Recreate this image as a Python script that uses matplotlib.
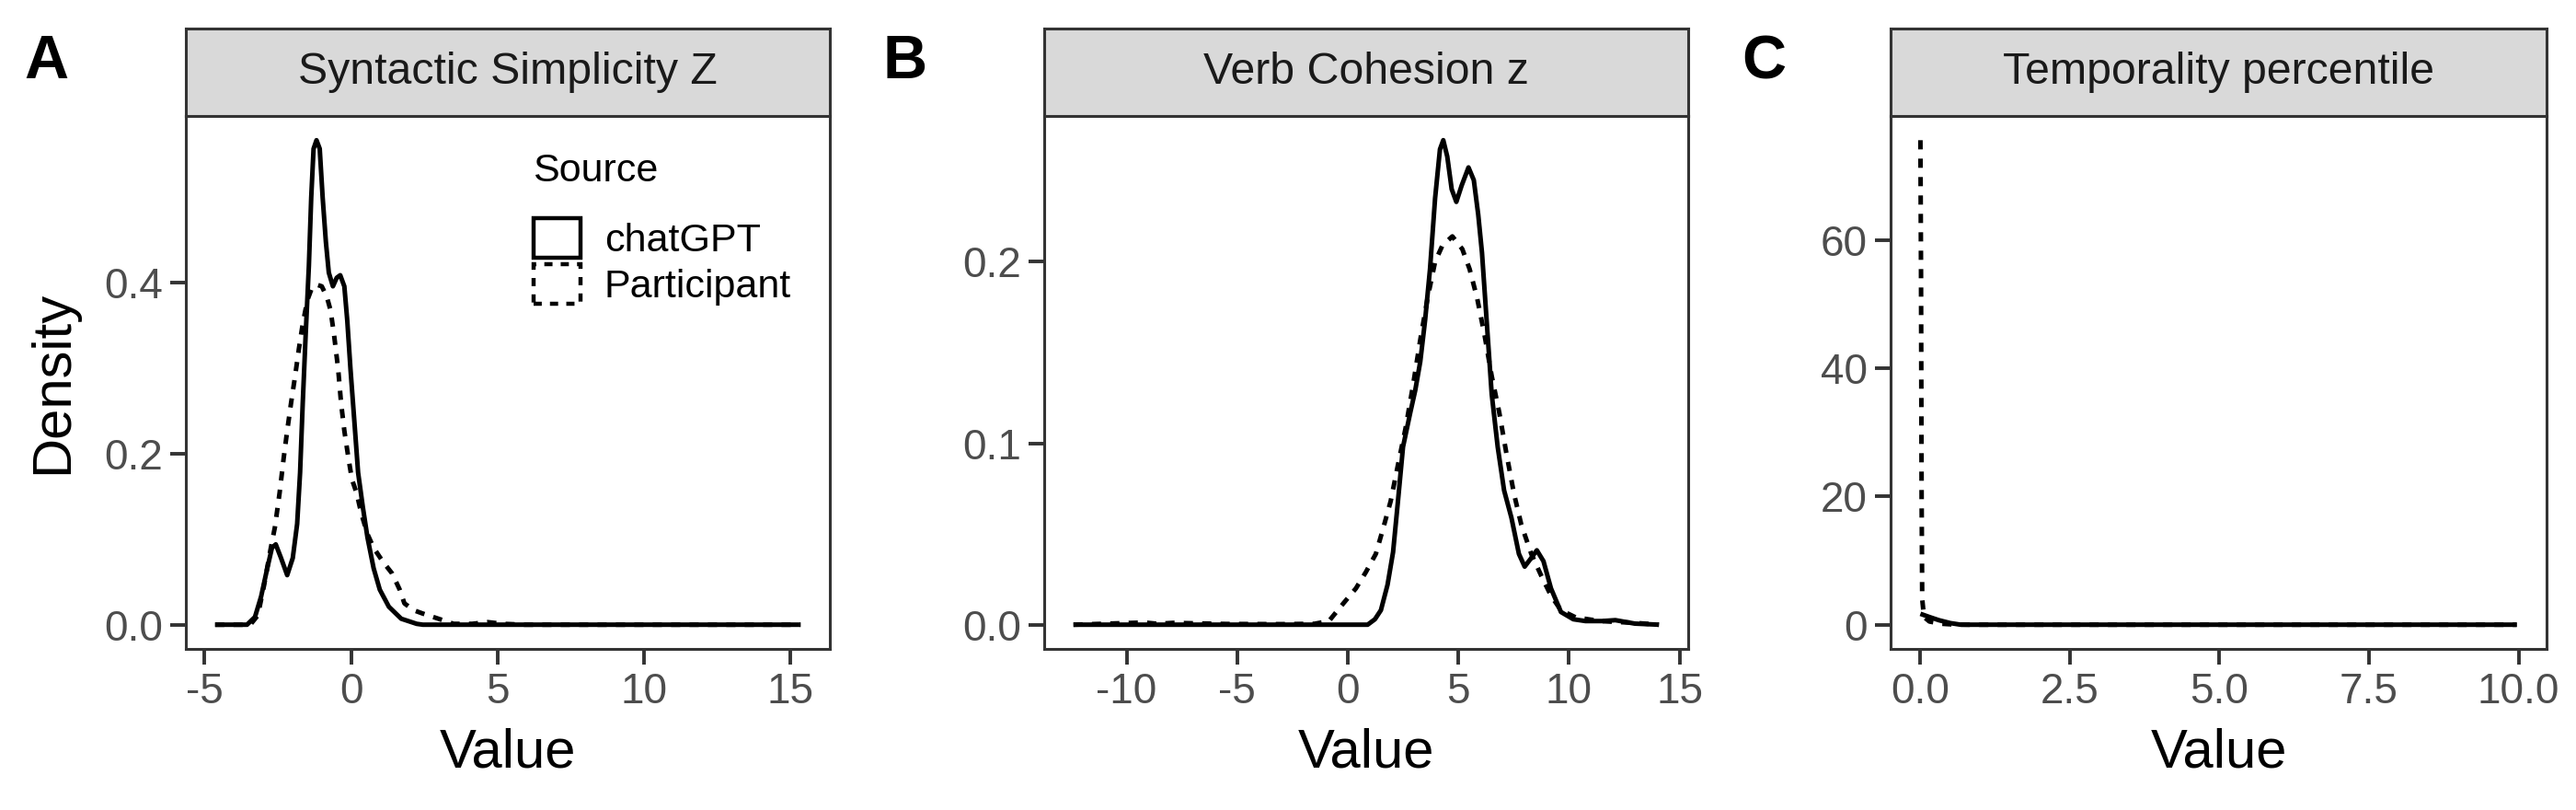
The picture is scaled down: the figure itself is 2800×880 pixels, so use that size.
#!/usr/bin/env python3
"""Density of three linguistic measures, chatGPT vs participant texts."""
import matplotlib
matplotlib.use("Agg")
import matplotlib.pyplot as plt
import matplotlib.patches as mpatches

plt.rcParams["font.family"] = ["Liberation Sans", "DejaVu Sans"]
plt.rcParams["axes.unicode_minus"] = False

# curves (x value, density)
SYN_GPT_X = [-4.64, -3.55, -3.28, -3.07, -2.86, -2.70, -2.57, -2.39, -2.18, -1.99, -1.84,
             -1.74, -1.65, -1.55, -1.44, -1.36, -1.28, -1.18, -1.07, -0.97, -0.86, -0.76,
             -0.62, -0.49, -0.37, -0.23, -0.13, -0.02, 0.11, 0.24, 0.40, 0.56, 0.77, 0.98,
             1.29, 1.71, 2.24, 2.45, 15.34]
SYN_GPT_Y = [0, 0, 0.009, 0.033, 0.066, 0.090, 0.094, 0.078, 0.058, 0.078, 0.118,
             0.178, 0.259, 0.339, 0.420, 0.500, 0.557, 0.567, 0.557, 0.500, 0.448, 0.412,
             0.396, 0.406, 0.409, 0.396, 0.356, 0.299, 0.239, 0.178, 0.138, 0.102, 0.066, 0.041,
             0.021, 0.007, 0.001, 0, 0]
SYN_PART_X = [-4.64, -3.44, -3.18, -2.97, -2.76, -2.60, -2.44, -2.30, -2.18, -2.05, -1.91,
              -1.78, -1.65, -1.49, -1.36, -1.18, -1.00, -0.83, -0.70, -0.58, -0.44, -0.34,
              -0.23, -0.09, 0.03, 0.19, 0.35, 0.56, 0.77, 1.08, 1.40, 1.66, 1.82, 2.13,
              2.45, 2.98, 3.50, 4.13, 4.66, 5.18, 5.92, 15.34]
SYN_PART_Y = [0, 0, 0.011, 0.046, 0.086, 0.114, 0.154, 0.195, 0.227, 0.259, 0.291,
              0.323, 0.352, 0.380, 0.392, 0.398, 0.396, 0.384, 0.368, 0.339, 0.299, 0.259,
              0.227, 0.195, 0.170, 0.154, 0.130, 0.106, 0.090, 0.074, 0.060, 0.041, 0.025, 0.017,
              0.013, 0.007, 0.001, 0.001, 0.003, 0.001, 0, 0]

VERB_GPT_X = [-12.4, 0.9, 1.23, 1.5, 1.8, 2.05, 2.27, 2.5, 2.83, 3.05, 3.28, 3.5, 3.72,
              3.95, 4.17, 4.32, 4.5, 4.7, 4.91, 5.15, 5.46, 5.7, 5.9, 6.07, 6.29, 6.51,
              6.78, 7.07, 7.4, 7.74, 8.0, 8.25, 8.55, 8.85, 9.19, 9.64, 10.2, 10.75, 11.5,
              12.1, 12.98, 14.07]
VERB_GPT_Y = [0, 0, 0.003, 0.008, 0.022, 0.040, 0.068, 0.098, 0.117, 0.129, 0.145, 0.168, 0.196,
              0.235, 0.262, 0.267, 0.258, 0.240, 0.233, 0.242, 0.252, 0.245, 0.226, 0.205, 0.166, 0.127,
              0.098, 0.074, 0.059, 0.039, 0.032, 0.036, 0.041, 0.035, 0.020, 0.007, 0.003, 0.002, 0.002,
              0.0025, 0.0006, 0]
VERB_PART_X = [-12.4, -9.2, -8.6, -7.9, -5.5, -3.0, -1.5, -0.85, -0.18, 0.37, 0.82, 1.27,
               1.60, 1.94, 2.27, 2.61, 2.94, 3.28, 3.61, 3.95, 4.28, 4.73, 5.18, 5.51, 5.85,
               6.18, 6.51, 6.85, 7.18, 7.52, 7.85, 8.30, 8.75, 9.19, 9.64, 10.31, 11.42,
               12.98, 14.07]
VERB_PART_Y = [0, 0.0012, 0.0005, 0.001, 0.0004, 0.0003, 0.0005, 0.002, 0.012, 0.020, 0.029, 0.039,
               0.053, 0.068, 0.088, 0.108, 0.131, 0.157, 0.180, 0.200, 0.209, 0.214, 0.207, 0.196, 0.180,
               0.160, 0.137, 0.117, 0.094, 0.072, 0.055, 0.039, 0.027, 0.016, 0.008, 0.004, 0.002,
               0.001, 0]

TEMP_GPT_X = [0, 0.15, 0.31, 0.5, 0.66, 0.8, 9.97]
TEMP_GPT_Y = [1.7, 1.2, 0.7, 0.25, 0.02, 0, 0]
TEMP_PART_X = [0, 0.01, 0.02, 0.03, 0.06, 0.15, 0.35, 0.6, 9.97]
TEMP_PART_Y = [75.6, 55, 20, 4, 1.2, 0.5, 0.15, 0, 0]

TITLES = ["Syntactic Simplicity Z", "Verb Cohesion z", "Temporality percentile"]
TAGS = ["A", "B", "C"]
SOURCES = ["chatGPT", "Participant"]
XTICKS = [[-5, 0, 5, 10, 15], [-10, -5, 0, 5, 10, 15], [0, 2.5, 5, 7.5, 10]]
XTICKLABELS = [["-5", "0", "5", "10", "15"], ["-10", "-5", "0", "5", "10", "15"],
               ["0.0", "2.5", "5.0", "7.5", "10.0"]]
YTICKS = [[0, 0.2, 0.4], [0, 0.1, 0.2], [0, 20, 40, 60]]
YTICKLABELS = [["0.0", "0.2", "0.4"], ["0.0", "0.1", "0.2"], ["0", "20", "40", "60"]]

CURVES = [
    ((SYN_GPT_X, SYN_GPT_Y), (SYN_PART_X, SYN_PART_Y)),
    ((VERB_GPT_X, VERB_GPT_Y), (VERB_PART_X, VERB_PART_Y)),
    ((TEMP_GPT_X, TEMP_GPT_Y), (TEMP_PART_X, TEMP_PART_Y)),
]

W, H = 2800, 880
LEFTS = [202, 1135, 2055]
WIDTHS = [700, 700, 713]
STRIP_TOP, PANEL_TOP, PANEL_BOTTOM = 31, 126, 705
FRAME = "#333333"
LW = 1.8
STYLES = [dict(linestyle="-"), dict(linestyle=(0, (2, 2)))]


def expand(lo, hi, frac=0.05):
    pad = (hi - lo) * frac
    return lo - pad, hi + pad


fig = plt.figure(figsize=(14, 4.4), dpi=200)

for i in range(3):
    x0 = LEFTS[i] / W
    w = WIDTHS[i] / W
    ax = fig.add_axes([x0, 1 - PANEL_BOTTOM / H, w, (PANEL_BOTTOM - PANEL_TOP) / H])
    for (xs, ys), style in zip(CURVES[i], STYLES):
        ax.plot(xs, ys, color="black", lw=LW, solid_capstyle="butt", **style)

    all_x = CURVES[i][0][0] + CURVES[i][1][0]
    all_y = CURVES[i][0][1] + CURVES[i][1][1]
    ax.set_xlim(*expand(min(all_x), max(all_x)))
    ax.set_ylim(*expand(0, max(all_y)))
    ax.set_xticks(XTICKS[i])
    ax.set_xticklabels(XTICKLABELS[i])
    ax.set_yticks(YTICKS[i])
    ax.set_yticklabels(YTICKLABELS[i])
    ax.tick_params(length=6, width=1.4, color=FRAME, labelcolor="#4D4D4D",
                   labelsize=16.5, pad=3)
    for sp in ax.spines.values():
        sp.set_color(FRAME)
        sp.set_linewidth(1.1)
    ax.set_xlabel("Value", fontsize=21.5, labelpad=6)
    if i == 0:
        ax.set_ylabel("Density", fontsize=21.5, labelpad=10)
        ax.text(0.5386, 0.897, "Source", transform=ax.transAxes, ha="left",
                va="center", fontsize=15.5)
        handles = [mpatches.Patch(facecolor="none", edgecolor="black", lw=1.6, **s)
                   for s in STYLES]
        ax.legend(handles, SOURCES, loc="upper left", bbox_to_anchor=(0.540, 0.808),
                  frameon=False, fontsize=15.5, handlelength=1.18, handleheight=1.15,
                  handletextpad=0.6, labelspacing=0.12, borderpad=0, borderaxespad=0)

    # facet strip
    sax = fig.add_axes([x0, 1 - PANEL_TOP / H, w, (PANEL_TOP - STRIP_TOP) / H])
    sax.set_facecolor("#D9D9D9")
    sax.set_xticks([])
    sax.set_yticks([])
    for sp in sax.spines.values():
        sp.set_color(FRAME)
        sp.set_linewidth(1.1)
    sax.text(0.5, 0.5, TITLES[i], ha="center", va="center", fontsize=17.4,
             color="#1A1A1A", transform=sax.transAxes)

    fig.text((LEFTS[i] - 176 + (14 if i == 2 else 0)) / W, 1 - 68 / H, TAGS[i],
             fontsize=24, fontweight="bold", ha="left", va="center")

fig.savefig("out.png", dpi=200, facecolor="white")
